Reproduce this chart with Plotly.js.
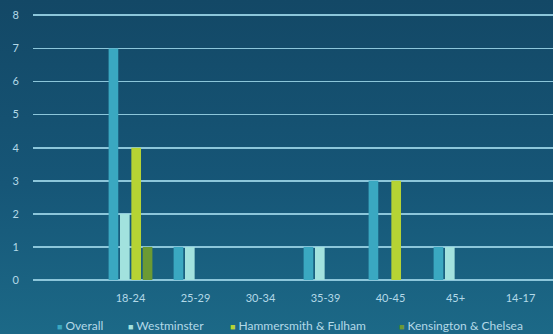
<!DOCTYPE html>
<html>
<head>
<meta charset="utf-8">
<script src="https://cdn.plot.ly/plotly-3.0.1.min.js"></script>
<style>
  html, body { margin: 0; padding: 0; }
  body {
    width: 553px; height: 334px; overflow: hidden;
    background: linear-gradient(180deg, #134866 0%, #165677 55%, #1c6987 100%);
  }
  #chart { width: 553px; height: 334px; }
</style>
</head>
<body>
<div id="chart"></div>
<script>
// Age bands along the x axis
const ageBands = ['18-24', '25-29', '30-34', '35-39', '40-45', '45+', '14-17'];

// Respondent counts per borough
const overall      = [7, 1, 0, 1, 3, 1, 0];
const westminster  = [2, 1, 0, 1, 0, 1, 0];
const hammersmith  = [4, 0, 0, 0, 3, 0, 0];
const kensington   = [1, 0, 0, 0, 0, 0, 0];

const seriesNames  = ['Overall', 'Westminster', 'Hammersmith & Fulham', 'Kensington & Chelsea'];
const seriesValues = [overall, westminster, hammersmith, kensington];
const seriesColors = ['#3aa8c1', '#a2e2de', '#b6d334', '#6c9a33'];

const textColor = '#b3d9e8';
const tickFont = { family: 'Lato, "Open Sans", sans-serif', size: 11, color: textColor };
const keyFont  = { family: 'Lato, "Open Sans", sans-serif', size: 12, color: textColor };

const traces = seriesValues.map((vals, i) => ({
  type: 'bar', x: ageBands, y: vals, name: seriesNames[i],
  marker: { color: seriesColors[i], line: { width: 0 } },
  hoverinfo: 'x+y+name'
}));

// legend row: a small square key followed by the series name
const keyLeft = [55, 126, 228, 397];   // left edge of each key, px
const plotLeft = 33, plotWidth = 520, plotTop = 12, plotBottom = 280;
const plotHeight = plotBottom - plotTop;
const legendAnnotations = seriesNames.map((name, i) => ({
  xref: 'paper', yref: 'paper',
  x: (keyLeft[i] - plotLeft) / plotWidth,
  y: (plotBottom - 325) / plotHeight,
  xanchor: 'left', yanchor: 'middle', showarrow: false,
  text: '<span style="color:' + seriesColors[i] + ';font-size:9px">■</span> ' + name,
  font: keyFont
}));

const layout = {
  width: 553, height: 334,
  margin: { l: plotLeft, r: 0, t: plotTop, b: 334 - plotBottom, autoexpand: false },
  paper_bgcolor: 'rgba(0,0,0,0)',
  plot_bgcolor: 'rgba(0,0,0,0)',
  font: tickFont,
  barmode: 'group',
  bargap: 0.3,
  bargroupgap: 0.15,
  showlegend: false,
  xaxis: {
    type: 'category', range: [-1.5, 6.5],
    showgrid: false, zeroline: false, showline: false,
    ticks: '', ticklabelstandoff: 10,
    tickfont: tickFont, fixedrange: true
  },
  yaxis: {
    range: [0, 8.1], tickvals: [0, 1, 2, 3, 4, 5, 6, 7, 8],
    showgrid: true, gridcolor: '#8cc6da', gridwidth: 1.7,
    zeroline: true, zerolinecolor: '#8cc6da', zerolinewidth: 1.7,
    showline: false, ticks: '', ticklabelstandoff: 13,
    tickfont: tickFont, fixedrange: true
  },
  annotations: legendAnnotations
};

Plotly.newPlot('chart', traces, layout, { displayModeBar: false, staticPlot: true });
</script>
</body>
</html>
